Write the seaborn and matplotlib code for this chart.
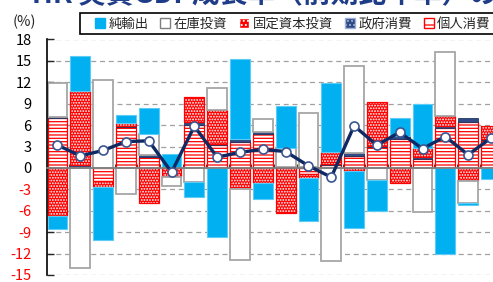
import numpy as np
import matplotlib
matplotlib.use("Agg")
import matplotlib.pyplot as plt
from matplotlib.patches import Patch, Rectangle
import seaborn as sns

# 寄与度 (%pt) per quarter
kojin = [7.0, 0.0, -1.85, 5.75, 1.5, 0.2, 6.0, 3.2, 3.7, 4.75,
         0.1, -0.8, 0.45, 1.7, 3.0, 4.05, 1.3, 5.55, 6.4, 3.9]
seifu = [0.15, 0.4, 0.0, 0.1, 0.3, 0.0, 0.45, 0.15, 0.3, 0.3,
         0.0, 0.15, 0.1, 0.35, 0.1, 0.4, 0.3, 0.3, 0.65, 0.1]
kotei = [-6.7, 10.4, -0.8, 0.45, -4.85, -1.2, 3.45, 4.75, -2.9, -2.15,
         -6.3, -0.6, 1.7, -0.45, 6.2, -2.15, 1.15, 1.5, -1.85, 1.85]
zaiko = [4.7, -14.0, 12.3, -3.7, 2.95, -1.3, -2.0, 3.05, -10.0, 1.8,
         2.65, 7.5, -13.1, 12.2, -1.7, 0.0, -6.2, 8.9, -3.1, 0.0]
yushutsu = [-1.9, 4.9, -7.5, 1.1, 3.7, 1.7, -2.0, -9.7, 11.3, -2.2,
            5.95, -6.0, 9.7, -8.0, -4.3, 2.6, 6.2, -12.0, -0.2, -1.6]
gdp = [3.2, 1.7, 2.45, 3.7, 3.8, -0.6, 5.85, 1.5, 2.2, 2.6,
       2.3, 0.3, -1.3, 5.9, 3.2, 5.0, 2.7, 4.4, 1.85, 4.2]

yticks = list(range(-15, 19, 3))
labels = ["純輸出", "在庫投資", "固定資本投資", "政府消費", "個人消費"]

sns.set_style("white")
plt.rcParams["font.family"] = ["Noto Sans CJK JP", "DejaVu Sans"]
plt.rcParams["hatch.linewidth"] = 0.9

RED = "#FF0000"
BLUE = "#00B0F0"
NAVY = "#0F2A63"

fig = plt.figure(figsize=(4.93, 2.82), dpi=100)
ax = fig.add_axes([47 / 493, 1 - 275 / 282, 446 / 493, (275 - 39.5) / 282])

x = np.arange(len(gdp))
w = 0.87

styles = [
    (kojin, [dict(facecolor="white", edgecolor=RED, hatch="-----", linewidth=0.9)]),
    (seifu, [dict(facecolor="#2F4A85", edgecolor="#1F3864", linewidth=0.6)]),
    (kotei, [dict(facecolor=RED, edgecolor="white", hatch="......", linewidth=0),
             dict(fill=False, edgecolor=RED, linewidth=0.9)]),
    (zaiko, [dict(facecolor="white", edgecolor="#A6A6A6", linewidth=1.3)]),
    (yushutsu, [dict(facecolor=BLUE, edgecolor="#5CCBF5", linewidth=0.8)]),
]

pos = np.zeros(len(x))
neg = np.zeros(len(x))
for vals, kws in styles:
    v = np.array(vals)
    bottom = np.where(v >= 0, pos, neg)
    m = v != 0
    for kw in kws:
        ax.bar(x[m], v[m], w, bottom=bottom[m], zorder=2, **kw)
    pos += np.clip(v, 0, None)
    neg += np.clip(v, None, 0)

sns.lineplot(x=x, y=gdp, ax=ax, color=NAVY, lw=2.4, marker="o", markersize=6.5,
             markerfacecolor="white", markeredgecolor="#3B5590",
             markeredgewidth=1.2, zorder=5)

ax.set_ylim(-15, 18)
ax.set_xlim(-0.46, 19.09)
ax.set_yticks(yticks)
ax.set_yticklabels([str(t) for t in yticks])
for lab, t in zip(ax.get_yticklabels(), yticks):
    lab.set_color(RED if t < 0 else "black")
ax.set_xticks(np.arange(0.5, 19, 1))
ax.set_xticklabels([])
ax.yaxis.grid(True, ls=(0, (4, 3)), color="#A0A0A0", lw=0.9, zorder=0)
ax.xaxis.grid(False)
ax.set_axisbelow(True)

for s in ["top", "right"]:
    ax.spines[s].set_visible(False)
ax.spines["bottom"].set_position(("data", 0))
ax.spines["bottom"].set_color("#7F7F7F")
ax.spines["bottom"].set_linewidth(1.3)
ax.spines["bottom"].set_zorder(3)
ax.spines["left"].set_color("black")
ax.spines["left"].set_linewidth(1.2)
ax.tick_params(axis="y", direction="in", length=5, width=1, pad=11,
               labelsize=10.5, left=True)
ax.tick_params(axis="x", direction="in", length=3, width=0.8,
               color="#404040", bottom=True)

fig.text(13 / 493, 1 - 22 / 282, "(%)", fontsize=10.5, va="center", ha="left")

# legend box runs off the right edge like in the original
fig.patches.append(Rectangle((80 / 493, 1 - 34 / 282), 0.95, 21 / 282,
                             transform=fig.transFigure, facecolor="white",
                             edgecolor="black", linewidth=1.2, zorder=1))
handles = [
    Patch(facecolor=BLUE, edgecolor=BLUE),
    Patch(facecolor="white", edgecolor="#7F7F7F"),
    Patch(facecolor=RED, edgecolor="white", hatch="...."),
    Patch(facecolor="#2F4A85", edgecolor="#9DB0D8", hatch="...."),
    Patch(facecolor="white", edgecolor=RED, hatch="-"),
]
leg = fig.legend(handles, labels, loc="center left",
                 bbox_to_anchor=(95 / 493, 1 - 23.5 / 282), ncol=5,
                 frameon=False, fontsize=9.6, handlelength=0.75,
                 handleheight=0.75, handletextpad=0.25, columnspacing=0.9,
                 borderpad=0, borderaxespad=0)
leg.set_zorder(2)

fig.text(4 / 493, 1 - 3 / 282, "・HK 実質GDP成長率（前期比年率）の推移",
         fontsize=20, fontweight="bold", color="#1F3C88", va="baseline", ha="left")

fig.savefig("out.png", dpi=100)
